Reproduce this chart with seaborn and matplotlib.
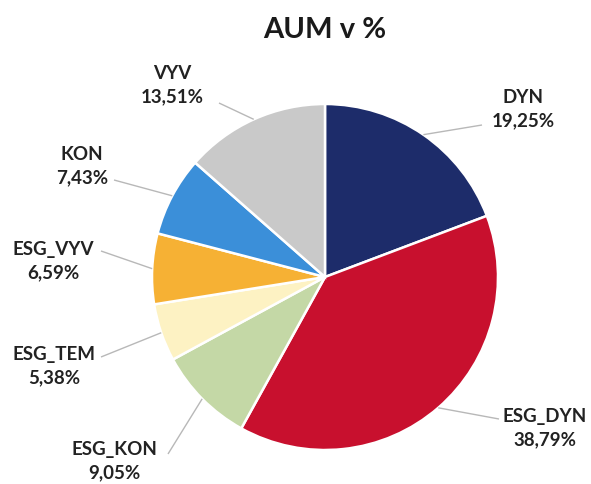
import numpy as np
import matplotlib
matplotlib.use("Agg")
import matplotlib.pyplot as plt
import seaborn as sns

# data, clockwise from 12 o'clock
funds = ['DYN', 'ESG_DYN', 'ESG_KON', 'ESG_TEM', 'ESG_VYV', 'KON', 'VYV']
shares = [19.25, 38.79, 9.05, 5.38, 6.59, 7.43, 13.51]
share_labels = ['19,25%', '38,79%', '9,05%', '5,38%', '6,59%', '7,43%', '13,51%']
fund_colors = ['#1d2c6a', '#c8102e', '#c4d8a6', '#fdf2c3',
               '#f6b134', '#3b8fd9', '#c9c9c9']

# label layout in pixels (x, y from top): text centre, leader end
label_pos = [(523, 109), (545, 428), (114, 461), (54, 366),
             (53, 261), (82, 166), (172, 85)]
leader_end = [(482, 126), (499, 420), (168, 455), (101, 358),
              (101, 252), (114, 181), (219, 104)]

W, H = 591, 485
cx, cy, r = 325, 278, 173

sns.set_theme(style="white")
plt.rcParams['font.family'] = ['Lato', 'DejaVu Sans']

fig = plt.figure(figsize=(W / 100, H / 100), dpi=100)
ax = fig.add_axes([0, 0, 1, 1])

palette = sns.color_palette(fund_colors)
wedges, _ = ax.pie(
    shares,
    colors=palette,
    startangle=90,
    counterclock=False,
    center=(cx, H - cy),
    radius=r,
    wedgeprops=dict(edgecolor='white', linewidth=1.8),
    frame=False
)

for w, name, lab, (tx, ty), (ex, ey) in zip(
        wedges, funds, share_labels, label_pos, leader_end):
    ang = np.deg2rad((w.theta1 + w.theta2) / 2)
    sx = cx + r * np.cos(ang)
    sy = (H - cy) + r * np.sin(ang)
    ax.plot([sx, ex], [sy, H - ey], color='#b8b8b8', lw=1.0,
            solid_capstyle='butt', zorder=1)
    ax.text(tx, H - ty, f"{name}\n{lab}", ha='center', va='center',
            fontsize=13.5, fontweight='bold', color='#222222',
            linespacing=1.45)

ax.text(325, H - 30, 'AUM v %', ha='center', va='center',
        fontsize=21, fontweight='bold', color='#1a1a1a')

ax.set_xlim(0, W)
ax.set_ylim(0, H)
ax.set_aspect('equal')
ax.axis('off')

fig.savefig('out.png', dpi=100, facecolor='white')
